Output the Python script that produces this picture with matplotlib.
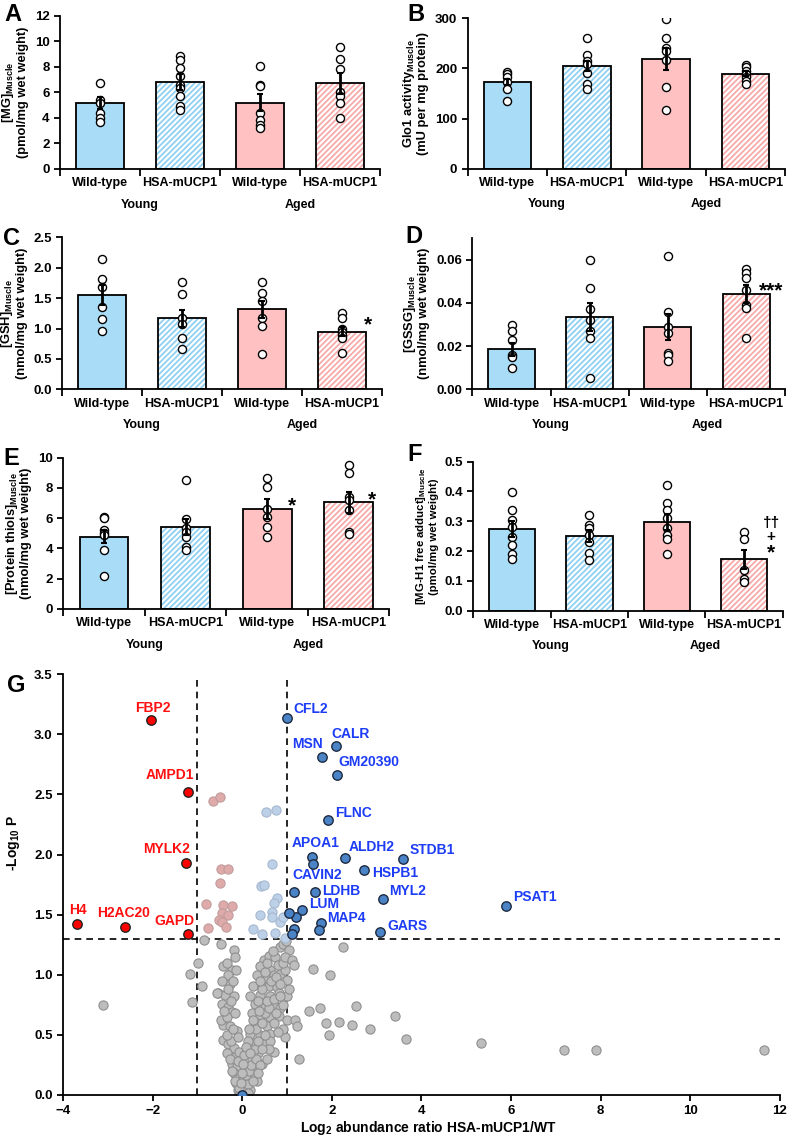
import matplotlib
matplotlib.use("Agg")
import matplotlib.pyplot as plt
import matplotlib.transforms as mtransforms
import numpy as np

plt.rcParams['font.family'] = ['Liberation Sans', 'DejaVu Sans']
plt.rcParams['font.weight'] = 'bold'
plt.rcParams['axes.labelweight'] = 'bold'
plt.rcParams['mathtext.fontset'] = 'custom'
plt.rcParams['mathtext.rm'] = 'Liberation Sans:bold'
plt.rcParams['mathtext.it'] = 'Liberation Sans:bold'
plt.rcParams['mathtext.bf'] = 'Liberation Sans:bold'
plt.rcParams['hatch.linewidth'] = 1.3

# ---- bar panel data ----
groups = ["Wild-type", "HSA-mUCP1", "Wild-type", "HSA-mUCP1"]
ages = ["Young", "Aged"]

mg_mean = [5.15, 6.8, 5.2, 6.7]
mg_sem = [0.45, 0.65, 0.7, 0.8]
mg_pts = [[6.7, 5.4, 5.2, 4.4, 4.0, 3.7],
          [8.85, 8.55, 7.9, 7.3, 6.6, 6.35, 5.7, 4.95, 4.6],
          [8.1, 6.6, 6.5, 4.4, 3.8, 3.45, 3.2],
          [9.55, 8.6, 7.85, 6.0, 5.7, 5.2, 4.0]]

glo_mean = [173, 204, 218, 189]
glo_sem = [6, 10, 22, 5]
glo_pts = [[192, 188, 182, 173, 158, 136],
           [261, 226, 215, 208, 190, 168, 158],
           [299, 261, 241, 235, 216, 162, 117],
           [207, 202, 195, 188, 182, 175, 168]]

gsh_mean = [1.55, 1.17, 1.32, 0.95]
gsh_sem = [0.16, 0.14, 0.14, 0.07]
gsh_pts = [[2.14, 1.82, 1.69, 1.35, 1.15, 0.96],
           [1.77, 1.56, 1.17, 1.07, 0.84, 0.67],
           [1.77, 1.59, 1.46, 1.17, 1.04, 0.58],
           [1.25, 1.18, 1.0, 0.95, 0.89, 0.84, 0.59]]

gssg_mean = [0.0186, 0.0333, 0.0288, 0.0442]
gssg_sem = [0.0030, 0.0065, 0.0060, 0.0043]
gssg_pts = [[0.030, 0.027, 0.023, 0.016, 0.015, 0.010],
            [0.0597, 0.047, 0.037, 0.032, 0.027, 0.024, 0.0054],
            [0.062, 0.036, 0.029, 0.026, 0.017, 0.016, 0.013],
            [0.0557, 0.054, 0.0515, 0.046, 0.039, 0.0375, 0.024]]

thiol_mean = [4.79, 5.41, 6.6, 7.05]
thiol_sem = [0.45, 0.55, 0.65, 0.7]
thiol_pts = [[6.07, 6.0, 5.2, 5.0, 4.9, 3.87, 2.2],
             [8.53, 5.93, 5.38, 5.12, 4.79, 4.13, 3.9],
             [8.64, 8.04, 6.59, 6.1, 5.4, 4.79],
             [9.52, 9.0, 7.43, 7.2, 6.55, 5.12, 4.95]]

mgh1_mean = [0.274, 0.251, 0.297, 0.172]
mgh1_sem = [0.027, 0.02, 0.026, 0.031]
mgh1_pts = [[0.399, 0.337, 0.306, 0.282, 0.246, 0.22, 0.19, 0.174],
            [0.321, 0.287, 0.276, 0.254, 0.231, 0.192, 0.170],
            [0.423, 0.36, 0.337, 0.31, 0.276, 0.254, 0.239, 0.19],
            [0.263, 0.242, 0.136, 0.105, 0.097]]

# ---- volcano data ----
red_x = [-2.04, -1.22, -1.26, -3.68, -2.61, -1.20]
red_y = [3.12, 2.52, 1.93, 1.42, 1.40, 1.34]
red_labels = ["FBP2", "AMPD1", "MYLK2", "H4", "H2AC20", "GAPD"]
red_offsets = [(0.04, 0.10), (-0.39, 0.14), (-0.42, 0.12), (0.02, 0.12), (-0.03, 0.11), (-0.32, 0.11)]

blue_x = [1.01, 2.10, 1.79, 2.12, 1.91, 1.56, 1.57, 2.29, 2.71, 3.59, 3.14, 5.88, 3.08,
          1.15, 1.62, 1.33, 1.76, 1.20, 1.04, 1.72, 1.15, 1.12, 0.0]
blue_y = [3.14, 2.90, 2.81, 2.66, 2.29, 1.98, 1.92, 1.97, 1.87, 1.96, 1.63, 1.57, 1.36,
          1.69, 1.69, 1.54, 1.43, 1.48, 1.51, 1.37, 1.38, 1.34, 0.0]
blue_labels = ["CFL2", "CALR", "MSN", "GM20390", "FLNC", "APOA1", "", "ALDH2", "HSPB1", "STDB1",
               "MYL2", "PSAT1", "GARS", "CAVIN2", "LDHB", "LUM", "MAP4", "", "", "", "", "", ""]
blue_offsets = [(0.13, 0.07), (-0.11, 0.10), (-0.67, 0.11), (0.03, 0.11), (0.17, 0.06), (-0.45, 0.12),
                (0, 0), (0.08, 0.09), (0.19, -0.02), (0.14, 0.08), (0.13, 0.07), (0.17, 0.08),
                (0.15, 0.05), (-0.03, 0.14), (0.16, 0.01), (0.17, 0.05), (0.13, 0.04),
                (0, 0), (0, 0), (0, 0), (0, 0), (0, 0), (0, 0)]

pink_x = [-0.66, -0.49, -0.47, -0.32, -0.49, -0.80, -0.42, -0.22, -0.45, -0.32, -0.51, -0.45, -0.36, -0.77]
pink_y = [2.45, 2.48, 1.88, 1.88, 1.76, 1.585, 1.58, 1.57, 1.51, 1.50, 1.455, 1.44, 1.40, 1.39]

lblue_x = [0.53, 0.76, 0.66, 0.42, 0.48, 0.77, 0.70, 0.39, 0.66, 0.66, 0.85, 0.92, 0.23, 0.45, 0.74, 0.945]
lblue_y = [2.355, 2.37, 1.92, 1.74, 1.745, 1.635, 1.595, 1.50, 1.52, 1.48, 1.44, 1.48, 1.38, 1.34, 1.35, 1.31]

gray_x = [-0.85, -0.48, -0.19, -0.98, -1.16, -0.90, -1.12, -0.42, -0.23, -0.13, -0.31, -0.55, -0.38,
          -0.19, -0.27, -0.45, -0.31, -0.23, -0.42, -0.27, -0.12, -0.42, -0.31, -0.19, -0.34, -0.16,
          -0.08, -0.23, -0.12, -0.19, -0.08, -0.13, -0.04, -0.10, 0.07, 0.14, 0.10, 0.18,
          0.48, 0.59, 0.74, 0.85, 0.92, 1.04, 0.40, 0.63, 0.33, 0.55, 0.70, 0.85, 0.96, 0.25, 0.44,
          0.59, 0.77, 1.0, 0.18, 0.40, 0.63, 0.81, 1.0, 0.29, 0.51, 0.70, 0.85, 0.22, 0.40, 0.63,
          0.81, 1.0, 1.18, 1.22, 0.33, 0.55, 0.18, 0.40, 0.63, 0.96, 0.25, 0.48, 0.14, 0.36, 0.70,
          0.22, 0.44, 0.10, 0.29, 0.18, 0.33, 0.03, 1.26,
          2.26, 1.59, 1.97, 1.48, 1.73, 2.53, 1.86, 2.15, 2.45, 2.85, 1.94, 3.42, 3.66, 5.33, 7.17,
          7.89, 11.65, -3.11, -0.57,
          -0.05, 0.02, 0.05, -0.08, 0.12, -0.15, 0.08, 0.15, -0.22, 0.20, -0.28, 0.30, -0.10, 0.05,
          0.28, -0.25, 0.12, 0.35, -0.35, 0.30, 0.45, -0.48, 0.50, -0.35, 0.60, 0.35, 0.55, 0.70,
          -0.25, 0.45, 0.65, 0.75, 0.50, 0.80, 0.90, 0.95, 0.55, 0.68, 0.40, 0.85, 0.92, 0.75, 0.90,
          0.80, 0.62, 0.70, 0.38, 0.25, 0.15, 0.08, 0.18, 0.40, 0.35, 0.25, 0.12, -0.02, -0.20,
          -0.15, -0.40, -0.32, -0.20, -0.45, -0.35, -0.15, -0.10, 0.00, 0.02, 0.55, 0.60, 0.50,
          0.45, 0.85, 1.05, 1.10, 1.15, 0.98]
gray_y = [1.29, 1.26, 1.21, 1.10, 1.01, 0.91, 0.77, 1.07, 1.04, 1.04, 1.0, 0.85, 0.83,
          0.82, 0.92, 0.76, 0.73, 0.69, 0.58, 0.57, 0.53, 0.46, 0.42, 0.39, 0.35, 0.32,
          0.36, 0.26, 0.24, 0.18, 0.14, 0.10, 0.07, 0.04, 0.11, 0.15, 0.07, 0.04,
          1.12, 1.16, 1.15, 1.23, 1.26, 1.21, 1.07, 1.04, 1.0, 0.97, 1.0, 1.01, 1.04, 0.91, 0.90,
          0.91, 0.90, 0.96, 0.82, 0.83, 0.82, 0.85, 0.82, 0.76, 0.73, 0.75, 0.72, 0.68, 0.66, 0.65,
          0.66, 0.62, 0.62, 0.57, 0.60, 0.57, 0.51, 0.50, 0.51, 0.48, 0.43, 0.42, 0.36, 0.35, 0.36,
          0.29, 0.26, 0.22, 0.21, 0.15, 0.12, 0.14, 0.30,
          1.23, 1.05, 1.0, 0.70, 0.72, 0.74, 0.60, 0.61, 0.58, 0.55, 0.50, 0.66, 0.465, 0.43, 0.375,
          0.375, 0.375, 0.75, 0.845,
          0.02, 0.03, 0.05, 0.06, 0.09, 0.12, 0.17, 0.20, 0.20, 0.25, 0.30, 0.30, 0.28, 0.33,
          0.38, 0.45, 0.45, 0.45, 0.50, 0.55, 0.60, 0.62, 0.68, 0.65, 0.72, 0.78, 0.78, 0.80,
          0.78, 0.88, 0.95, 0.98, 1.02, 1.08, 1.10, 1.15, 1.10, 1.20, 0.95, 0.92, 0.75, 0.68, 0.55,
          0.52, 0.45, 0.60, 0.70, 0.62, 0.55, 0.40, 0.35, 0.25, 0.18, 0.12, 0.02, 0.10, 0.55,
          0.68, 0.70, 0.88, 0.95, 0.95, 1.10, 1.15, 0.48, 0.18, 0.26, 0.30, 0.38, 0.50,
          0.38, 0.82, 0.88, 1.12, 1.08, 1.28]

# ---- styling ----
fills = ['#a9dcf6', 'white', '#ffc1c1', 'white']
hatch_cols = [None, '#90d0f2', None, '#f6aaaa']

fig = plt.figure(figsize=(7.9, 11.4), dpi=100)


def bar_panel(rect, means, sems, points, ylim, yticks, fmt, ylabel, marks=(), label_size=9.3):
    ax = fig.add_axes(rect)
    x = np.arange(4)
    for i in range(4):
        if hatch_cols[i]:
            ax.bar(x[i], means[i], 0.6, color='white', edgecolor=hatch_cols[i],
                   hatch='//////', linewidth=0, zorder=2)
            ax.bar(x[i], means[i], 0.6, fill=False, edgecolor='black', linewidth=1.3, zorder=2)
        else:
            ax.bar(x[i], means[i], 0.6, color=fills[i], edgecolor='black', linewidth=1.3, zorder=2)
        ax.scatter(np.full(len(points[i]), x[i]), points[i], s=34, facecolor='white',
                   edgecolor='black', linewidth=1.0, zorder=3)
    ax.errorbar(x, means, yerr=sems, fmt='none', ecolor='black', elinewidth=2,
                capsize=2.5, capthick=1.5, zorder=4)
    ax.set_xlim(-0.5, 3.5)
    ax.set_ylim(*ylim)
    ax.set_yticks(yticks)
    ax.set_yticklabels([fmt.format(v) for v in yticks])
    ax.set_xticks([-0.5, 0.5, 1.5, 2.5, 3.5])
    ax.set_xticklabels([])
    ax.set_xticks(x, minor=True)
    ax.set_xticklabels(groups, minor=True)
    ax.tick_params(axis='x', which='major', direction='out', length=5, width=1.3)
    ax.tick_params(axis='x', which='minor', length=0, pad=6, labelsize=9)
    ax.tick_params(axis='y', direction='out', length=4, width=1.3, labelsize=9.5)
    for s in ['top', 'right']:
        ax.spines[s].set_visible(False)
    for s in ['left', 'bottom']:
        ax.spines[s].set_linewidth(1.3)
    trans = mtransforms.blended_transform_factory(ax.transData, ax.transAxes)
    ax.text(0.5, -0.235, ages[0], transform=trans, ha='center', va='center', fontsize=9)
    ax.text(2.5, -0.235, ages[1], transform=trans, ha='center', va='center', fontsize=9)
    ax.set_ylabel(ylabel, fontsize=label_size, labelpad=4, linespacing=1.1)
    for mx, my, mt, fs in marks:
        ax.text(mx, my, mt, ha='center', va='center', fontsize=fs)
    return ax


bar_panel([0.076, 0.852, 0.405, 0.134], mg_mean, mg_sem, mg_pts, (0, 12), [0, 2, 4, 6, 8, 10, 12],
          "{:.0f}", "[MG]$_{\\mathrm{Muscle}}$\n(pmol/mg wet weight)")
bar_panel([0.592, 0.852, 0.402, 0.132], glo_mean, glo_sem, glo_pts, (0, 300), [0, 100, 200, 300],
          "{:.0f}", "Glo1 activity$_{\\mathrm{Muscle}}$\n(mU per mg protein)")
bar_panel([0.079, 0.6585, 0.404, 0.1333], gsh_mean, gsh_sem, gsh_pts, (0, 2.5),
          [0, 0.5, 1.0, 1.5, 2.0, 2.5], "{:.1f}", "[GSH]$_{\\mathrm{Muscle}}$\n(nmol/mg wet weight)",
          marks=[(3.33, 1.06, "*", 15)])
bar_panel([0.598, 0.6585, 0.396, 0.1325], gssg_mean, gssg_sem, gssg_pts, (0, 0.07),
          [0, 0.02, 0.04, 0.06], "{:.2f}", "[GSSG]$_{\\mathrm{Muscle}}$\n(nmol/mg wet weight)",
          marks=[(3.32, 0.0455, "***", 15)])
bar_panel([0.080, 0.4658, 0.413, 0.1327], thiol_mean, thiol_sem, thiol_pts, (0, 10),
          [0, 2, 4, 6, 8, 10], "{:.0f}", "[Protein thiols]$_{\\mathrm{Muscle}}$\n(nmol/mg wet weight)",
          marks=[(2.31, 6.8, "*", 15), (3.29, 7.2, "*", 15)])
bar_panel([0.599, 0.4643, 0.392, 0.1307], mgh1_mean, mgh1_sem, mgh1_pts, (0, 0.5),
          [0, 0.1, 0.2, 0.3, 0.4, 0.5], "{:.1f}", "[MG-H1 free adduct]$_{\\mathrm{Muscle}}$\n(pmol/mg wet weight)",
          marks=[(3.35, 0.295, "\u2020\u2020", 11), (3.35, 0.246, "+", 11), (3.35, 0.195, "*", 15)],
          label_size=8.2)

# ---- volcano ----
ax = fig.add_axes([0.0797, 0.0395, 0.9076, 0.369])
ax.plot([-1, -1], [0, 3.47], ls=(0, (4, 3)), color='black', lw=1.2, zorder=1)
ax.plot([1, 1], [0, 3.47], ls=(0, (4, 3)), color='black', lw=1.2, zorder=1)
ax.plot([-4, 12], [1.3, 1.3], ls=(0, (4, 3)), color='black', lw=1.2, zorder=1)
ax.scatter(gray_x, gray_y, s=44, facecolor='#bdbdbd', edgecolor='#8f8f8f', linewidth=0.8, zorder=2)
ax.scatter(pink_x, pink_y, s=44, facecolor='#dfaaaa', edgecolor='#c29c9c', linewidth=0.8, zorder=3)
ax.scatter(lblue_x, lblue_y, s=44, facecolor='#bcd0e8', edgecolor='#a5b8cf', linewidth=0.8, zorder=3)
ax.scatter(red_x, red_y, s=46, facecolor='#ff0000', edgecolor='#222222', linewidth=1.0, zorder=4)
ax.scatter(blue_x, blue_y, s=46, facecolor='#4a84c6', edgecolor='#1f2a40', linewidth=1.0, zorder=4)
for xv, yv, lab, (dx, dy) in zip(red_x, red_y, red_labels, red_offsets):
    ax.text(xv + dx, yv + dy, lab, color='#ff1010', fontsize=10, ha='center', va='center')
for xv, yv, lab, (dx, dy) in zip(blue_x, blue_y, blue_labels, blue_offsets):
    if lab:
        ax.text(xv + dx, yv + dy, lab, color='#1d3cf5', fontsize=10, ha='left', va='center')
ax.set_xlim(-4, 12)
ax.set_ylim(0, 3.5)
ax.set_xticks(range(-4, 13, 2))
ax.set_yticks([0, 0.5, 1.0, 1.5, 2.0, 2.5, 3.0, 3.5])
ax.set_yticklabels(["{:.1f}".format(v) for v in [0, 0.5, 1.0, 1.5, 2.0, 2.5, 3.0, 3.5]])
ax.tick_params(direction='out', length=4, width=1.3, labelsize=9.5)
for s in ['top', 'right']:
    ax.spines[s].set_visible(False)
for s in ['left', 'bottom']:
    ax.spines[s].set_linewidth(1.3)
ax.set_xlabel("Log$_{2}$ abundance ratio HSA-mUCP1/WT", fontsize=10)
ax.xaxis.set_label_coords(0.51, -0.058)
ax.set_ylabel("-Log$_{10}$ P", fontsize=10)
ax.yaxis.set_label_coords(-0.057, 0.6)

# panel letters
for lx, ly, lt in [(0.006, 0.997, "A"), (0.516, 0.997, "B"), (0.004, 0.801, "C"), (0.513, 0.803, "D"),
                   (0.004, 0.608, "E"), (0.516, 0.611, "F"), (0.009, 0.409, "G")]:
    fig.text(lx, ly, lt, fontsize=17, fontweight='bold', ha='left', va='top')

fig.savefig("out.png", dpi=100)
